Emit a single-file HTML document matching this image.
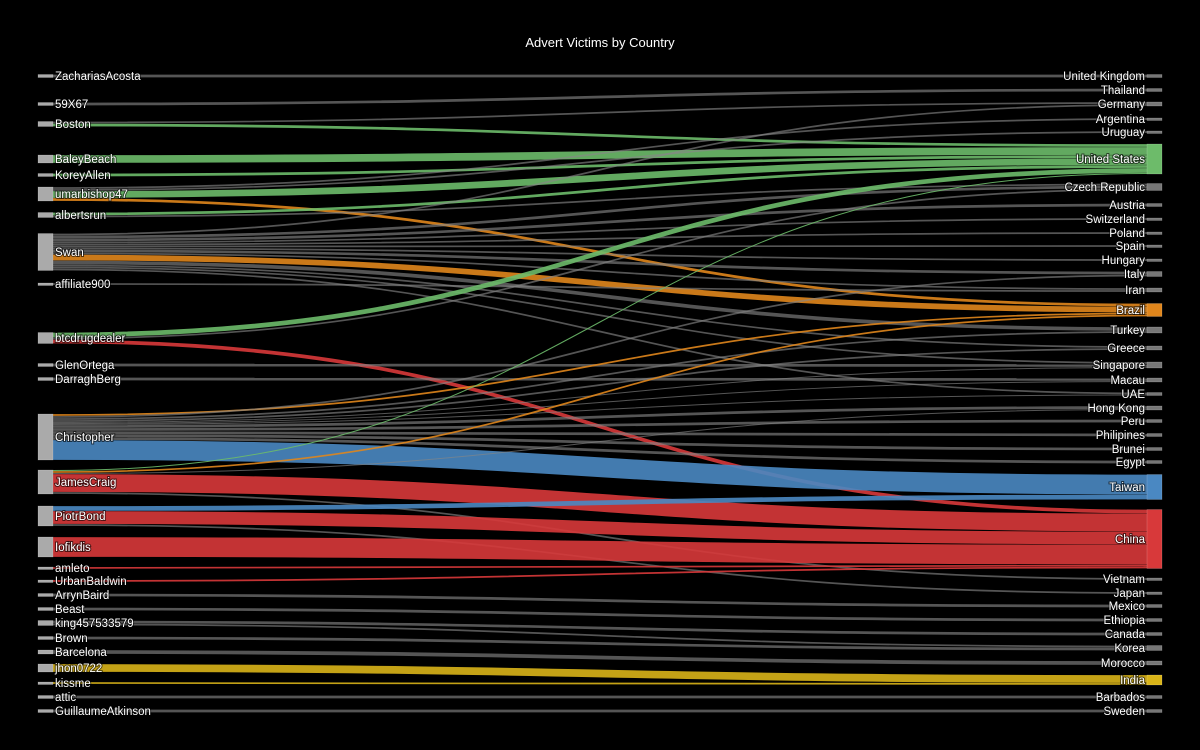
<!DOCTYPE html>
<html><head><meta charset="utf-8"><style>
html,body{margin:0;padding:0;background:#000;}
svg{display:block;font-family:"Liberation Sans",sans-serif;}
text{fill:#fff;font-size:11.5px;paint-order:stroke;stroke:#000;stroke-width:2px;stroke-opacity:.6}
</style></head><body>
<svg id="s" width="1200" height="750" xmlns="http://www.w3.org/2000/svg">
<rect width="1200" height="750" fill="#000"/>
<text x="600" y="47" text-anchor="middle" style="font-size:13px;stroke:none">Advert Victims by Country</text>
<g id="links"></g><g id="nodes"></g>
</svg>
<script>
var L={ZachariasAcosta:76,"59X67":104,Boston:124,BaleyBeach:159,KoreyAllen:175,umarbishop47:194,albertsrun:215,Swan:252,affiliate900:284,btcdrugdealer:338,GlenOrtega:365,DarraghBerg:379,Christopher:437,JamesCraig:482,PiotrBond:516,Iofikdis:547,amleto:568,UrbanBaldwin:581,ArrynBaird:595,Beast:609,king457533579:623,Brown:638,Barcelona:652,jhon0722:668,kissme:683,attic:697,GuillaumeAtkinson:711};
var R={"United Kingdom":76,Thailand:90,Germany:104,Argentina:119,Uruguay:132,"United States":159,"Czech Republic":187,Austria:205,Switzerland:219,Poland:233,Spain:246,Hungary:260,Italy:274,Iran:290,Brazil:310,Turkey:330,Greece:348,Singapore:365,Macau:380,UAE:394,"Hong Kong":408,Peru:421,Philipines:435,Brunei:449,Egypt:462,Taiwan:487,China:539,Vietnam:579,Japan:593,Mexico:606,Ethiopia:620,Canada:634,Korea:648,Morocco:663,India:680,Barbados:697,Sweden:711};
var G='rgba(135,135,135,0.7)',Gr='#6dbb6a',O='#e0861c',Rd='#d8393a',B='#4a88c2',Y='#d9b418';
var links=[
["ZachariasAcosta","United Kingdom",3,G],
["59X67","Thailand",3,G],
["Boston","Germany",2,G],["Boston","United States",3,Gr],
["BaleyBeach","United States",8,Gr],
["KoreyAllen","United States",3,Gr],
["umarbishop47","Argentina",2,G],["umarbishop47","Uruguay",2,G],["umarbishop47","United States",7,Gr],["umarbishop47","Brazil",3,O],
["albertsrun","United States",3,Gr],["albertsrun","Czech Republic",2,G],
["Swan","Germany",2,G],["Swan","Czech Republic",3,G],["Swan","Austria",3,G],["Swan","Switzerland",2,G],["Swan","Poland",2,G],["Swan","Spain",2,G],["Swan","Hungary",2,G],["Swan","Italy",3,G],["Swan","Iran",2,G],["Swan","Brazil",6,O],["Swan","Turkey",4,G],["Swan","Greece",2,G],["Swan","Singapore",2,G],["Swan","UAE",2,G],
["affiliate900","Iran",2,G],
["btcdrugdealer","United States",5,Gr],["btcdrugdealer","Czech Republic",2,G],["btcdrugdealer","China",4,Rd],
["GlenOrtega","Singapore",3,G],
["DarraghBerg","Macau",3,G],
["Christopher","Brazil",2,O],["Christopher","Italy",2,G],["Christopher","Turkey",2,G],["Christopher","Greece",2,G],["Christopher","Singapore",1,G],["Christopher","Macau",1,G],["Christopher","UAE",1,G],["Christopher","Hong Kong",3,G],["Christopher","Peru",3,G],["Christopher","Philipines",3,G],["Christopher","Brunei",3,G],["Christopher","Egypt",3,G],["Christopher","Taiwan",20,B],
["JamesCraig","United States",1,Gr],["JamesCraig","Brazil",2,O],["JamesCraig","Hong Kong",1,G],["JamesCraig","China",18,Rd],["JamesCraig","Vietnam",2,G],
["PiotrBond","Taiwan",5,B],["PiotrBond","China",13,Rd],["PiotrBond","Japan",2,G],
["Iofikdis","China",20,Rd],
["amleto","China",2,Rd],["UrbanBaldwin","China",2,Rd],
["ArrynBaird","Mexico",3,G],["Beast","Ethiopia",3,G],
["king457533579","Canada",3,G],["king457533579","Korea",2,G],
["Brown","Korea",3,G],["Barcelona","Morocco",4,G],
["jhon0722","India",8,Y],["kissme","India",2,Y],
["attic","Barbados",3,G],["GuillaumeAtkinson","Sweden",3,G]
];
var lorder=Object.keys(L);
function tot(side,n){var s=0;links.forEach(function(l){if(l[side]==n)s+=l[2]});return s}
var so={},to={},x0=53,x1=1147,NS="http://www.w3.org/2000/svg";
var lg=document.getElementById('links'),ng=document.getElementById('nodes');
lorder.forEach(function(n){so[n]=L[n]-tot(0,n)/2});
for(var r in R)to[r]=R[r]-tot(1,r)/2;
var sorted=links.slice().sort(function(a,b){return L[a[0]]-L[b[0]]});
var tpos=new Map();
sorted.forEach(function(l){tpos.set(l,to[l[1]]+l[2]/2);to[l[1]]+=l[2]});
links.forEach(function(l){
 var ys=so[l[0]]+l[2]/2;so[l[0]]+=l[2];var yt=tpos.get(l);
 var p=document.createElementNS(NS,'path');var m=(x0+x1)/2;
 p.setAttribute('d','M'+x0+','+ys+' C'+m+','+ys+' '+m+','+yt+' '+x1+','+yt);
 p.setAttribute('stroke',l[3]);p.setAttribute('stroke-width',Math.max(l[2]-0.3,1));p.setAttribute('fill','none');
 p.setAttribute('stroke-opacity','0.9');lg.appendChild(p);
});
function node(x,y,h,c,label,right){
 var r=document.createElementNS(NS,'rect');r.setAttribute('x',x);r.setAttribute('y',y-h/2);r.setAttribute('width',15);r.setAttribute('height',Math.max(h,2.5));r.setAttribute('fill',c);r.setAttribute('stroke','rgba(255,255,255,0.3)');r.setAttribute('stroke-width','0.5');ng.appendChild(r);
 var t=document.createElementNS(NS,'text');t.setAttribute('x',right?x-2:x+17);t.setAttribute('y',y+4);if(right)t.setAttribute('text-anchor','end');t.textContent=label;ng.appendChild(t);
}
lorder.forEach(function(n){node(38,L[n],tot(0,n),'#aaa',n,false)});
var rc={"United States":Gr,Brazil:O,Taiwan:B,China:Rd,India:Y};
for(var r in R)node(1147,R[r],tot(1,r),rc[r]||'#777',r,true);
</script>
</body></html>
